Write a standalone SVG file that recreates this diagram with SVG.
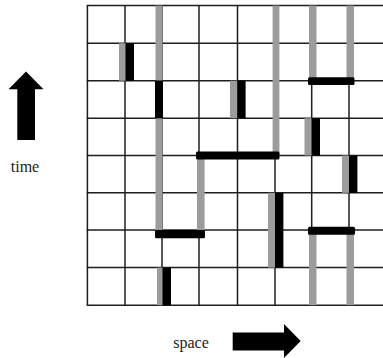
<svg xmlns="http://www.w3.org/2000/svg" width="383" height="358" viewBox="0 0 383 358">
<style>
.grid line{stroke:#1e1e1e;stroke-width:1.5}
.wl{fill:#9c9c9a}
.cut{fill:#000}
.lbl{font-family:"Liberation Serif","Times New Roman",serif;font-size:16px;fill:#222;text-anchor:middle}
.arrow{fill:#000}
</style>
<rect width="383" height="358" fill="#fff"/>
<g id="grid" class="grid">
<line x1="87.4" y1="5.6" x2="87.4" y2="305.2"/>
<line x1="125" y1="5.6" x2="125" y2="305.2"/>
<line x1="162" y1="5.6" x2="162" y2="305.2"/>
<line x1="199" y1="5.6" x2="199" y2="305.2"/>
<line x1="237.5" y1="5.6" x2="237.5" y2="305.2"/>
<line x1="275" y1="5.6" x2="275" y2="305.2"/>
<line x1="311.7" y1="5.6" x2="311.7" y2="305.2"/>
<line x1="349" y1="5.6" x2="349" y2="305.2"/>
<line x1="86.7" y1="5.6" x2="383" y2="5.6"/>
<line x1="86.7" y1="43.2" x2="383" y2="43.2"/>
<line x1="86.7" y1="80.7" x2="383" y2="80.7"/>
<line x1="86.7" y1="118.2" x2="383" y2="118.2"/>
<line x1="86.7" y1="155.5" x2="383" y2="155.5"/>
<line x1="86.7" y1="192.8" x2="383" y2="192.8"/>
<line x1="86.7" y1="230" x2="383" y2="230"/>
<line x1="86.7" y1="267.6" x2="383" y2="267.6"/>
<line x1="86.7" y1="305.2" x2="383" y2="305.2"/>
</g>
<g id="worldlines">
<rect class="wl" x="155.5" y="5.6" width="7" height="75.1"/>
<rect class="wl" x="155.5" y="118.2" width="7" height="111.8"/>
<rect class="wl" x="157" y="267.6" width="5.6" height="37.6"/>
<rect class="wl" x="119" y="43.2" width="6.6" height="37.5"/>
<rect class="wl" x="197" y="155.5" width="7.6" height="74.5"/>
<rect class="wl" x="230" y="80.7" width="7.4" height="37.5"/>
<rect class="wl" x="272.6" y="5.6" width="6.8" height="149.9"/>
<rect class="wl" x="268" y="192.8" width="7" height="74.8"/>
<rect class="wl" x="309" y="5.6" width="7.5" height="75.1"/>
<rect class="wl" x="309" y="230" width="7.5" height="75.2"/>
<rect class="wl" x="304.5" y="118.2" width="7.2" height="37.3"/>
<rect class="wl" x="346.5" y="5.6" width="7.5" height="75.1"/>
<rect class="wl" x="346.5" y="230" width="7.5" height="75.2"/>
<rect class="wl" x="342" y="155.5" width="7" height="37.3"/>
</g>
<g id="cuts">
<rect class="cut" x="125.6" y="43.2" width="8.4" height="37.5"/>
<rect class="cut" x="155" y="80.7" width="8" height="37.5"/>
<rect class="cut" x="162.6" y="267.6" width="8.4" height="37.6"/>
<rect class="cut" x="237.4" y="80.7" width="8.2" height="37.5"/>
<rect class="cut" x="275" y="192.8" width="8.4" height="74.8"/>
<rect class="cut" x="311.7" y="118.2" width="8.3" height="37.3"/>
<rect class="cut" x="349" y="155.5" width="8.4" height="37.3"/>
<rect class="cut" x="308" y="77.2" width="46.5" height="7.8" rx="1.5"/>
<rect class="cut" x="196" y="151.4" width="83.5" height="8.2" rx="1.5"/>
<rect class="cut" x="308" y="226.8" width="47" height="8" rx="1.5"/>
<rect class="cut" x="155" y="230" width="50" height="8.2" rx="1.5"/>
</g>
<g id="time-axis">
<polygon class="arrow" points="26,71.5 43.5,89.3 35,89.3 35,140 17.3,140 17.3,89.3 8.5,89.3"/>
<text class="lbl" x="25" y="171.5">time</text>
</g>
<g id="space-axis">
<polygon class="arrow" points="300.7,341 284,358 284,350.5 232.7,350.5 232.7,332.5 284,332.5 284,324"/>
<text class="lbl" x="191" y="347.5">space</text>
</g>
</svg>
